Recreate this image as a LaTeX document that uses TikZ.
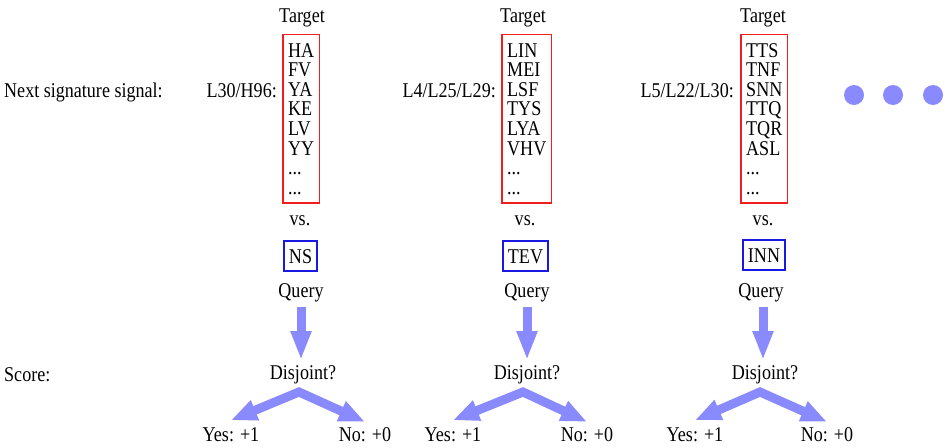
\documentclass[tikz,border=0pt]{standalone}
\usepackage{fontspec}
\setmainfont{Liberation Serif}[FakeStretch=0.86]
\usetikzlibrary{arrows.meta,fit}
\definecolor{arr}{RGB}{138,138,255}
\definecolor{rbox}{RGB}{240,30,30}
\definecolor{bbox}{RGB}{25,25,225}
\newcommand\ellip{...}
\begin{document}
\begin{tikzpicture}[x=1pt,y=-1pt,
  lbl/.style={inner sep=0pt, font=\fontsize{21pt}{19.6pt}\selectfont},
  targetbox/.style={draw=rbox, line width=1.6pt, inner xsep=5pt, inner ysep=8.5pt},
  querybox/.style={draw=bbox, line width=1.6pt, inner xsep=5pt, inner ysep=8pt,
    text height=14pt, text depth=0pt, font=\fontsize{21pt}{19.6pt}\selectfont},
  downarrow/.style={draw=arr, line width=9pt, -{Triangle[width=19pt,length=29pt]},
    shorten <=5.4pt, shorten >=4.7pt},
  fork/.style={draw=arr, line width=9pt, line join=miter,
    {Triangle[width=20pt,length=26pt]}-{Triangle[width=20pt,length=26pt]}},
  dot/.style={circle, fill=arr, minimum size=20pt, inner sep=0pt}]
\useasboundingbox (0,0) rectangle (950,447);

% row labels
\node[lbl, anchor=base west] (rowsig) at (4,97) {Next signature signal:};
\node[lbl, anchor=base west] (rowscore) at (4,381) {Score:};

% ---------- column 1 ----------
\node[lbl, anchor=base] (tg1) at (302,22) {Target};
\node[lbl, anchor=base east] (s1) at (277,97) {L30/H96:};
\foreach \t [count=\k] in {HA,FV,YA,KE,LV,YY,\ellip,\ellip}
  \node[lbl, anchor=base west] (a\k) at (288,37.4+19.6*\k) {\t};
\node[targetbox, fit=(a1)(a2)(a3)(a4)(a5)(a6)(a7)(a8)] (ta) {};
\node[lbl, anchor=base] (v1) at (300,225) {vs.};
\node[querybox] (qb1) at (300.5,256) {NS};
\node[lbl, anchor=base] (q1) at (301,297) {Query};
\node[lbl, anchor=base] (d1) at (303,379) {Disjoint?};
\draw[downarrow] (q1.south) -- (q1.south |- d1.north);
\coordinate (ap1) at (299,392);
\node[lbl, anchor=base] (y1) at (231,441) {Yes: +1};
\node[lbl, anchor=base] (n1) at (365,441) {No: +0};
\draw[fork] ([yshift=6.7pt]y1.north) -- (ap1) -- ([yshift=5pt]n1.north);

% ---------- column 2 ----------
\node[lbl, anchor=base] (tg2) at (523,22) {Target};
\node[lbl, anchor=base east] (s2) at (496,97) {L4/L25/L29:};
\foreach \t [count=\k] in {LIN,MEI,LSF,TYS,LYA,VHV,\ellip,\ellip}
  \node[lbl, anchor=base west] (b\k) at (507,37.4+19.6*\k) {\t};
\node[targetbox, fit=(b1)(b2)(b3)(b4)(b5)(b6)(b7)(b8)] (tb) {};
\node[lbl, anchor=base] (v2) at (525,225) {vs.};
\node[querybox] (qb2) at (525.5,256) {TEV};
\node[lbl, anchor=base] (q2) at (527,297) {Query};
\node[lbl, anchor=base] (d2) at (527,379) {Disjoint?};
\draw[downarrow] (q2.south) -- (q2.south |- d2.north);
\coordinate (ap2) at (523,392);
\node[lbl, anchor=base] (y2) at (453,441) {Yes: +1};
\node[lbl, anchor=base] (n2) at (587,441) {No: +0};
\draw[fork] ([yshift=6.7pt]y2.north) -- (ap2) -- ([yshift=5pt]n2.north);

% ---------- column 3 ----------
\node[lbl, anchor=base] (tg3) at (763,22) {Target};
\node[lbl, anchor=base east] (s3) at (734,97) {L5/L22/L30:};
\foreach \t [count=\k] in {TTS,TNF,SNN,TTQ,TQR,ASL,\ellip,\ellip}
  \node[lbl, anchor=base west] (c\k) at (746,37.4+19.6*\k) {\t};
\node[targetbox, fit=(c1)(c2)(c3)(c4)(c5)(c6)(c7)(c8)] (tc) {};
\node[lbl, anchor=base] (v3) at (763,225) {vs.};
\node[querybox] (qb3) at (764,255) {INN};
\node[lbl, anchor=base] (q3) at (761,297) {Query};
\node[lbl, anchor=base] (d3) at (765,379) {Disjoint?};
\draw[downarrow] ([xshift=2pt]q3.south) -- ([xshift=2pt]q3.south |- d3.north);
\coordinate (ap3) at (760,392);
\node[lbl, anchor=base] (y3) at (695,441) {Yes: +1};
\node[lbl, anchor=base] (n3) at (827,441) {No: +0};
\draw[fork] ([yshift=6.7pt]y3.north) -- (ap3) -- ([yshift=5pt]n3.north);

% continuation dots
\node[dot] (e1) at (854,95) {};
\node[dot] (e2) at (893,95) {};
\node[dot] (e3) at (933,95) {};
\end{tikzpicture}
\end{document}
